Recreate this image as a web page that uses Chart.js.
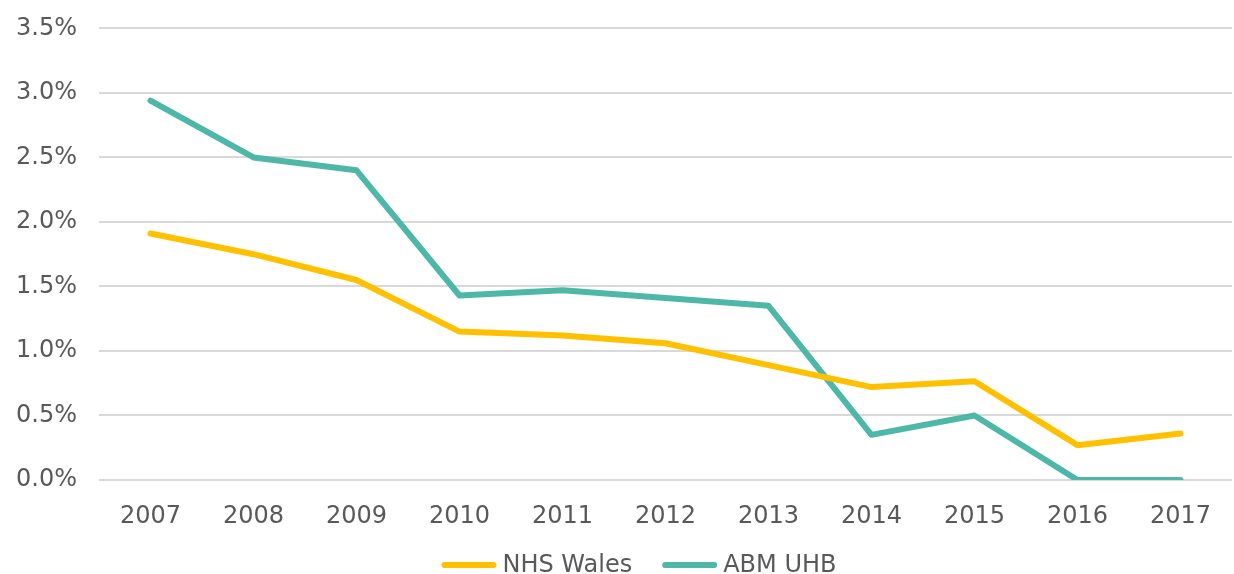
<!DOCTYPE html>
<html>
<head>
<meta charset="utf-8">
<script src="https://cdn.jsdelivr.net/npm/chart.js@4"></script>
<style>
html,body{margin:0;padding:0;background:#fff;overflow:hidden;}
#wrap{width:1234px;height:574px;position:relative;overflow:hidden;}
#c{position:absolute;left:0;top:-8px;}
</style>
</head>
<body>
<div id="wrap"><canvas id="c" width="1234" height="582"></canvas></div>
<script>
const years = ['2007','2008','2009','2010','2011','2012','2013','2014','2015','2016','2017'];
const nhsWales = [1.91, 1.75, 1.55, 1.15, 1.12, 1.06, 0.89, 0.72, 0.765, 0.27, 0.36];
const abmUhb = [2.94, 2.50, 2.40, 1.43, 1.47, 1.41, 1.35, 0.35, 0.50, 0.0, 0.0];
const yTicks = [0, 0.5, 1.0, 1.5, 2.0, 2.5, 3.0, 3.5];

const FONT = 'DejaVu Sans';
const TXT = '#595959';
const FS = 24;
Chart.defaults.font.family = FONT;
Chart.defaults.color = TXT;

const bottomLegend = {
  id: 'bottomLegend',
  afterDraw(chart) {
    const ctx = chart.ctx;
    ctx.save();
    ctx.font = FS + 'px "' + FONT + '"';
    const lineLen = 55, gap = 6, spacing = 30;
    const items = chart.data.datasets.map(ds => ({label: ds.label, color: ds.borderColor, w: ctx.measureText(ds.label).width}));
    let total = 0;
    items.forEach((it, i) => { total += lineLen + gap + it.w + (i ? spacing : 0); });
    let x = 639 - total / 2;
    const y = 573;
    items.forEach((it) => {
      ctx.strokeStyle = it.color;
      ctx.lineWidth = 6;
      ctx.lineCap = 'round';
      ctx.beginPath();
      ctx.moveTo(x + 3, y);
      ctx.lineTo(x + lineLen - 3, y);
      ctx.stroke();
      ctx.fillStyle = TXT;
      ctx.textBaseline = 'middle';
      ctx.textAlign = 'left';
      ctx.fillText(it.label, x + lineLen + gap, y + 1);
      x += lineLen + gap + it.w + spacing;
    });
    ctx.restore();
  }
};

new Chart(document.getElementById('c'), {
  type: 'line',
  data: {
    labels: years,
    datasets: [
      {label: 'NHS Wales', data: nhsWales, borderColor: '#FFC000', backgroundColor: '#FFC000',
       borderWidth: 6, pointRadius: 0, borderCapStyle: 'round', borderJoinStyle: 'round', tension: 0},
      {label: 'ABM UHB', data: abmUhb, borderColor: '#4DB8A8', backgroundColor: '#4DB8A8',
       borderWidth: 6, pointRadius: 0, borderCapStyle: 'round', borderJoinStyle: 'round', tension: 0}
    ]
  },
  plugins: [bottomLegend],
  options: {
    responsive: false,
    animation: false,
    devicePixelRatio: 1,
    layout: {padding: {top: 14, right: 2, left: 12, bottom: 0}},
    plugins: {
      tooltip: {enabled: false},
      legend: {display: false}
    },
    scales: {
      x: {
        offset: true,
        grid: {display: false},
        border: {display: false},
        ticks: {font: {size: FS}, color: TXT, padding: 14, maxRotation: 0},
        afterFit: (axis) => { axis.height = 94; }
      },
      y: {
        min: 0, max: 3.5,
        afterBuildTicks: (axis) => { axis.ticks = yTicks.map(v => ({value: v})); },
        grid: {color: '#D9D9D9', lineWidth: 2, drawTicks: false},
        border: {display: false},
        ticks: {font: {size: FS}, color: TXT, padding: 22, callback: v => Number(v).toFixed(1) + '%'},
        afterFit: (axis) => { axis.width = 87; }
      }
    }
  }
});
</script>
</body>
</html>
